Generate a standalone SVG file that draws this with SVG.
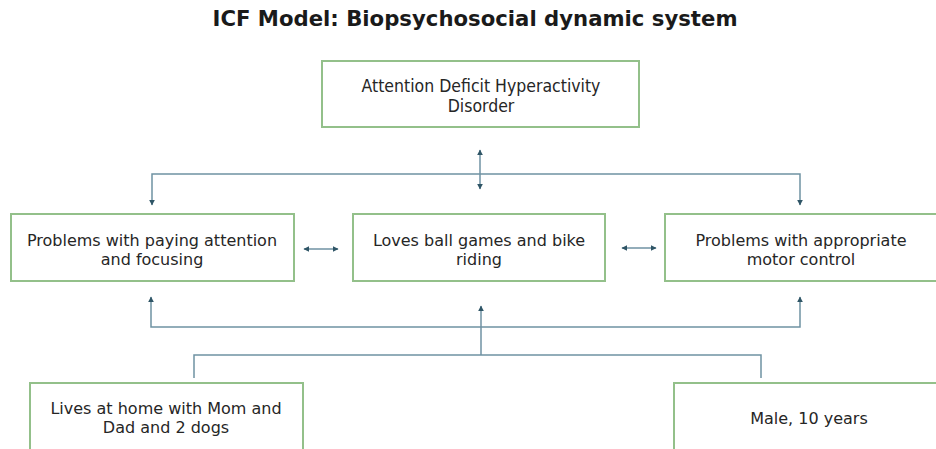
<svg xmlns="http://www.w3.org/2000/svg" width="936" height="449" viewBox="0 0 936 449">
<defs>
<style>
.box{fill:#fff;stroke:#93c08a;stroke-width:2}
.t{font-family:"DejaVu Sans","Noto Sans",sans-serif;font-size:16px;fill:#262626;text-anchor:middle}
.tc{font-family:"DejaVu Sans Condensed","DejaVu Sans",sans-serif;font-size:17.5px;fill:#262626;text-anchor:middle}
.title{font-family:"DejaVu Sans Condensed","DejaVu Sans",sans-serif;font-size:22px;font-weight:bold;fill:#1a1a1a;text-anchor:middle}
.ln{fill:none;stroke:#6f92a3;stroke-width:1.5}
</style>
<marker id="ah" viewBox="0 0 10 10" refX="9" refY="5" markerWidth="6" markerHeight="6" orient="auto-start-reverse" markerUnits="userSpaceOnUse">
<path d="M0,0 L10,5 L0,10 z" fill="#2f5566"/>
</marker>
</defs>
<rect width="936" height="449" fill="#fff"/>
<text class="title" x="475" y="26" textLength="525" lengthAdjust="spacingAndGlyphs">ICF Model: Biopsychosocial dynamic system</text>

<g id="connectors">
<line class="ln" x1="480" y1="150" x2="480" y2="189" marker-start="url(#ah)" marker-end="url(#ah)"/>
<polyline class="ln" points="152,205 152,174 800,174 800,205" marker-start="url(#ah)" marker-end="url(#ah)"/>
<line class="ln" x1="304" y1="249" x2="338" y2="249" marker-start="url(#ah)" marker-end="url(#ah)"/>
<line class="ln" x1="622" y1="248" x2="656" y2="248" marker-start="url(#ah)" marker-end="url(#ah)"/>
<polyline class="ln" points="151,297 151,327 800,327 800,297" marker-start="url(#ah)" marker-end="url(#ah)"/>
<line class="ln" x1="481" y1="355" x2="481" y2="306" marker-end="url(#ah)"/>
<polyline class="ln" points="194,378 194,355 761,355 761,378"/>
</g>

<g id="n-adhd">
<rect class="box" x="322" y="61" width="317" height="66"/>
<text class="tc" x="481" y="92">Attention Deficit Hyperactivity</text>
<text class="tc" x="481" y="112">Disorder</text>
</g>
<g id="n-attention">
<rect class="box" x="11" y="214" width="283" height="67"/>
<text class="t" x="152" y="246">Problems with paying attention</text>
<text class="t" x="152" y="265">and focusing</text>
</g>
<g id="n-games">
<rect class="box" x="353" y="214" width="252" height="67"/>
<text class="t" x="479" y="246">Loves ball games and bike</text>
<text class="t" x="479" y="265">riding</text>
</g>
<g id="n-motor">
<rect class="box" x="665" y="214" width="275" height="67"/>
<text class="t" x="801" y="246">Problems with appropriate</text>
<text class="t" x="801" y="265">motor control</text>
</g>
<g id="n-home">
<rect class="box" x="30" y="383" width="273" height="70"/>
<text class="t" x="166" y="414">Lives at home with Mom and</text>
<text class="t" x="166" y="433">Dad and 2 dogs</text>
</g>
<g id="n-male">
<rect class="box" x="674" y="383" width="270" height="70"/>
<text class="t" x="809" y="424">Male, 10 years</text>
</g>
</svg>
